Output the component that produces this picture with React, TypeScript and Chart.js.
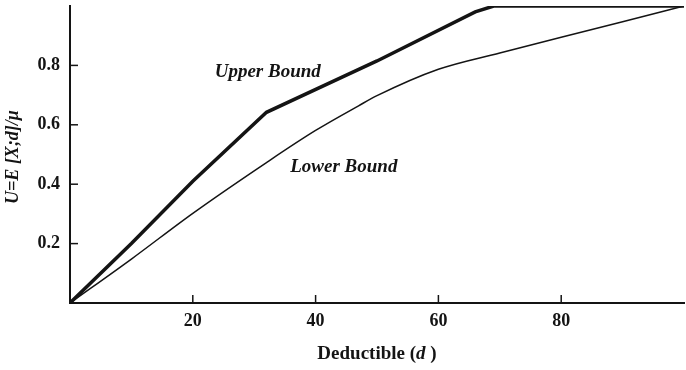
import React, { useEffect, useRef } from "react";
import { Chart, registerables } from "chart.js";

Chart.register(...registerables);

// Data
const upperX = [0, 10, 20, 32, 50, 66, 69, 100];
const upperY = [0, 0.2, 0.41, 0.642, 0.815, 0.98, 1.0, 1.0];
const lowerX = [0, 10, 20, 32, 40, 47, 50, 60, 70, 80, 90, 100];
const lowerY = [0, 0.148, 0.302, 0.473, 0.581, 0.664, 0.698, 0.787, 0.842, 0.895, 0.947, 1.0];
const xTicks = [20, 40, 60, 80];
const yTicks = [0.2, 0.4, 0.6, 0.8];
const seriesLabels = ["Upper Bound", "Lower Bound"];
const labelX = [32.2, 44.6];
const labelY = [0.779, 0.459];
const xTitle = ["Deductible (", "d", " )"];
const yTitle = "U=E [X;d]/\u03bc";

const SERIF = "'Liberation Serif', 'DejaVu Serif', serif";
const INK = "#141414";

const overlay = {
  id: "overlay",
  afterDatasetsDraw(chart: any) {
    const { ctx, scales } = chart;
    const x = scales.x;
    const y = scales.y;
    ctx.save();
    ctx.strokeStyle = INK;
    ctx.lineWidth = 1.5;
    // inward tick marks
    xTicks.forEach((v) => {
      const px = x.getPixelForValue(v);
      ctx.beginPath();
      ctx.moveTo(px, y.bottom);
      ctx.lineTo(px, y.bottom - 8);
      ctx.stroke();
    });
    yTicks.forEach((v) => {
      const py = y.getPixelForValue(v);
      ctx.beginPath();
      ctx.moveTo(x.left, py);
      ctx.lineTo(x.left + 8, py);
      ctx.stroke();
    });
    // series labels
    ctx.fillStyle = INK;
    ctx.font = `italic bold 19px ${SERIF}`;
    ctx.textAlign = "center";
    ctx.textBaseline = "middle";
    seriesLabels.forEach((t, i) => {
      ctx.fillText(t, x.getPixelForValue(labelX[i]), y.getPixelForValue(labelY[i]));
    });

    // x title with italic d
    const fonts = [`bold 19px ${SERIF}`, `italic bold 19px ${SERIF}`, `bold 19px ${SERIF}`];
    let total = 0;
    const widths = xTitle.map((t, i) => {
      ctx.font = fonts[i];
      const w = ctx.measureText(t).width;
      total += w;
      return w;
    });
    let cx = (x.left + x.right) / 2 - total / 2;
    ctx.textAlign = "left";
    ctx.textBaseline = "middle";
    xTitle.forEach((t, i) => {
      ctx.font = fonts[i];
      ctx.fillText(t, cx, 354);
      cx += widths[i];
    });

    // y title rotated
    ctx.translate(13, 157);
    ctx.rotate(-Math.PI / 2);
    ctx.font = `italic bold 18px ${SERIF}`;
    ctx.textAlign = "center";
    ctx.textBaseline = "middle";
    ctx.fillText(yTitle, 0, 0);
    ctx.restore();
  },
};

export default function App() {
  const ref = useRef<HTMLCanvasElement | null>(null);
  useEffect(() => {
    document.body.style.margin = "0";
    const canvas = ref.current;
    if (!canvas) return;
    const chart = new Chart(canvas, {
      type: "line",
      data: {
        datasets: [
          {
            label: seriesLabels[0],
            data: upperX.map((v, i) => ({ x: v, y: upperY[i] })),
            borderColor: INK,
            borderWidth: 3.5,
            pointRadius: 0,
            tension: 0,
          },
          {
            label: seriesLabels[1],
            data: lowerX.map((v, i) => ({ x: v, y: lowerY[i] })),
            borderColor: INK,
            borderWidth: 1.5,
            pointRadius: 0,
            cubicInterpolationMode: "monotone",
          },
        ],
      },
      options: {
        animation: false,
        responsive: false,
        devicePixelRatio: 1,
        layout: { padding: { top: 6, right: 2, left: 0, bottom: 0 } },
        plugins: { legend: { display: false }, tooltip: { enabled: false } },
        scales: {
          x: {
            type: "linear",
            min: 0,
            max: 100,
            grid: { display: false, drawTicks: false },
            border: { display: true, color: INK, width: 2 },
            afterBuildTicks: (s: any) => {
              s.ticks = xTicks.map((v) => ({ value: v }));
            },
            afterFit: (s: any) => {
              s.height = 67;
              s.paddingLeft = 0;
              s.paddingRight = 0;
            },
            ticks: {
              color: INK,
              padding: 8,
              font: { family: SERIF, size: 18, weight: "bold" },
              maxRotation: 0,
              callback: (v: any) => String(v),
            },
          },
          y: {
            type: "linear",
            min: 0,
            max: 1,
            grid: { display: false, drawTicks: false },
            border: { display: true, color: INK, width: 2 },
            afterBuildTicks: (s: any) => {
              s.ticks = yTicks.map((v) => ({ value: v }));
            },
            afterFit: (s: any) => {
              s.width = 70;
              s.paddingTop = 0;
              s.paddingBottom = 0;
            },
            ticks: {
              color: INK,
              padding: 10,
              font: { family: SERIF, size: 18, weight: "bold" },
              callback: (v: any) => Number(v).toFixed(1),
            },
          },
        },
      },
      plugins: [overlay],
    } as any);
    return () => chart.destroy();
  }, []);
  return (
    <div style={{ position: "absolute", left: 0, top: 0, width: 686, height: 370 }}>
      <canvas ref={ref} width={686} height={370} />
    </div>
  );
}
